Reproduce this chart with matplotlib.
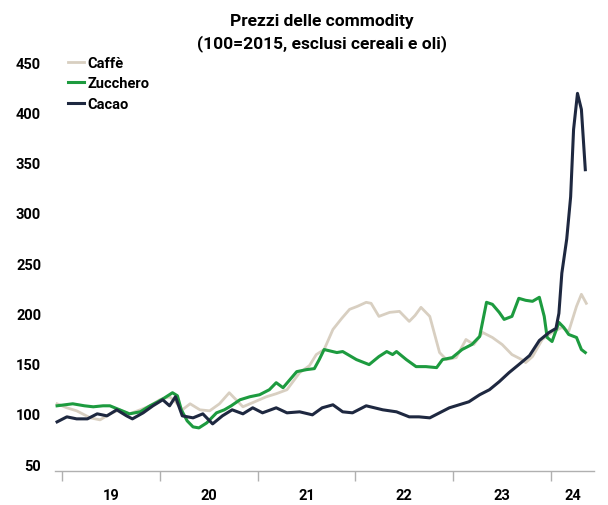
import numpy as np
from matplotlib import pyplot as plt

plt.rcParams['font.family'] = ['Roboto', 'DejaVu Sans']

# time axis in decimal years, values 100 = 2015
caffe_t = [2018.95, 2019.05, 2019.15, 2019.29, 2019.39, 2019.49, 2019.59, 2019.69, 2019.80, 2019.90,
           2020.00, 2020.10, 2020.16, 2020.23, 2020.31, 2020.41, 2020.51, 2020.61, 2020.71, 2020.85,
           2020.97, 2021.09, 2021.19, 2021.30, 2021.43, 2021.53, 2021.60, 2021.68, 2021.77, 2021.86,
           2021.94, 2022.02, 2022.11, 2022.16, 2022.24, 2022.35, 2022.45, 2022.55, 2022.61, 2022.67,
           2022.76, 2022.86, 2022.93, 2023.03, 2023.13, 2023.21, 2023.30, 2023.40, 2023.50, 2023.60,
           2023.70, 2023.74, 2023.81, 2023.91, 2024.01, 2024.11, 2024.18, 2024.26, 2024.31, 2024.36]
caffe = [110, 106, 103, 96, 94, 100, 104, 100, 104, 108,
         114, 117, 112, 104, 110, 104, 103, 110, 121, 107,
         112, 117, 120, 124, 141, 148, 159, 164, 184, 195,
         204, 207, 211, 210, 197, 201, 202, 192, 198, 206,
         197, 161, 154, 156, 174, 169, 181, 176, 169, 159,
         154, 151, 157, 174, 181, 186, 182, 207, 219, 210]

zucchero_t = [2018.95, 2019.03, 2019.11, 2019.23, 2019.32, 2019.42, 2019.49, 2019.59, 2019.69, 2019.80,
              2019.90, 2019.98, 2020.05, 2020.13, 2020.18, 2020.22, 2020.28, 2020.34, 2020.40, 2020.48,
              2020.58, 2020.66, 2020.73, 2020.82, 2020.92, 2021.02, 2021.12, 2021.19, 2021.26, 2021.33,
              2021.40, 2021.50, 2021.58, 2021.63, 2021.68, 2021.81, 2021.87, 2022.01, 2022.14, 2022.24,
              2022.32, 2022.38, 2022.42, 2022.52, 2022.62, 2022.72, 2022.83, 2022.89, 2022.99, 2023.09,
              2023.19, 2023.27, 2023.34, 2023.40, 2023.47, 2023.52, 2023.60, 2023.67, 2023.74, 2023.81,
              2023.88, 2023.93, 2023.96, 2024.01, 2024.08, 2024.13, 2024.18, 2024.26, 2024.31, 2024.35]
zucchero = [108, 109, 110, 108, 107, 108, 108, 104, 100, 102,
            108, 112, 116, 121, 118, 104, 93, 87, 86, 91,
            101, 104, 108, 114, 117, 119, 124, 131, 126, 134,
            142, 144, 145, 154, 164, 161, 162, 154, 149, 157,
            162, 159, 162, 154, 147, 147, 146, 154, 156, 164,
            169, 177, 211, 209, 201, 194, 197, 215, 213, 212,
            216, 197, 176, 172, 191, 186, 179, 176, 164, 161]

cacao_t = [2018.95, 2019.05, 2019.15, 2019.26, 2019.36, 2019.46, 2019.56, 2019.66, 2019.72, 2019.83,
           2019.93, 2020.03, 2020.10, 2020.16, 2020.23, 2020.34, 2020.44, 2020.54, 2020.64, 2020.74,
           2020.85, 2020.95, 2021.05, 2021.19, 2021.30, 2021.43, 2021.56, 2021.66, 2021.77, 2021.87,
           2021.97, 2022.11, 2022.28, 2022.42, 2022.55, 2022.65, 2022.76, 2022.86, 2022.96, 2023.06,
           2023.16, 2023.27, 2023.37, 2023.47, 2023.57, 2023.67, 2023.78, 2023.88, 2023.98, 2024.05,
           2024.08, 2024.11, 2024.16, 2024.20, 2024.23, 2024.27, 2024.31, 2024.35]
cacao = [92, 97, 95, 95, 100, 98, 104, 98, 95, 101,
         108, 114, 108, 117, 98, 96, 100, 90, 98, 104,
         100, 106, 101, 106, 101, 102, 99, 106, 109, 102,
         101, 108, 104, 102, 97, 97, 96, 101, 106, 109,
         112, 119, 124, 132, 141, 149, 158, 173, 181, 185,
         200, 240, 274, 316, 383, 419, 403, 343]

years = [2019, 2020, 2021, 2022, 2023, 2024]
year_labels = ['19', '20', '21', '22', '23', '24']

fig = plt.figure(figsize=(6.08, 5.06), dpi=100)
ax = fig.add_axes([0.0905, 0.067, 0.8865, 0.818])

ax.plot(caffe_t, caffe, color='#d8cfc1', lw=2.0, label='Caffè')
ax.plot(zucchero_t, zucchero, color='#1d9b3f', lw=2.2, label='Zucchero')
ax.plot(cacao_t, cacao, color='#1e2840', lw=2.2, label='Cacao')

ax.set_xlim(2018.929, 2024.439)
ax.set_ylim(43, 455)
ax.set_yticks(np.arange(50, 451, 50))
ax.tick_params(axis='y', length=0, pad=10, labelsize=10.5)
for lab in ax.get_yticklabels():
    lab.set_fontweight('bold')

# year boundaries as tick marks, labels centred inside each year
ax.set_xticks(years)
ax.set_xticklabels([])
ax.set_xticks([y + 0.5 for y in years[:-1]] + [2024.22], minor=True)
ax.set_xticklabels(year_labels, minor=True, fontweight='bold', fontsize=10.5)
ax.tick_params(axis='x', which='major', length=7, width=1, color='#b0b0b0', direction='out')
ax.tick_params(axis='x', which='minor', length=0, pad=12)

for s in ['left', 'right', 'top']:
    ax.spines[s].set_visible(False)
ax.spines['bottom'].set_color('#b0b0b0')
ax.spines['bottom'].set_linewidth(1)

leg = ax.legend(loc='upper left', bbox_to_anchor=(0.0, 1.035), frameon=False,
                handlelength=1.1, handletextpad=0.25, labelspacing=0.45,
                prop={'weight': 'bold', 'size': 10.5})

fig.text(0.53, 0.958, 'Prezzi delle commodity', ha='center', va='center',
         fontsize=12.5, fontweight='bold')
fig.text(0.53, 0.914, '(100=2015, esclusi cereali e oli)', ha='center', va='center',
         fontsize=12.5, fontweight='bold')

fig.savefig('out.png', dpi=100)
